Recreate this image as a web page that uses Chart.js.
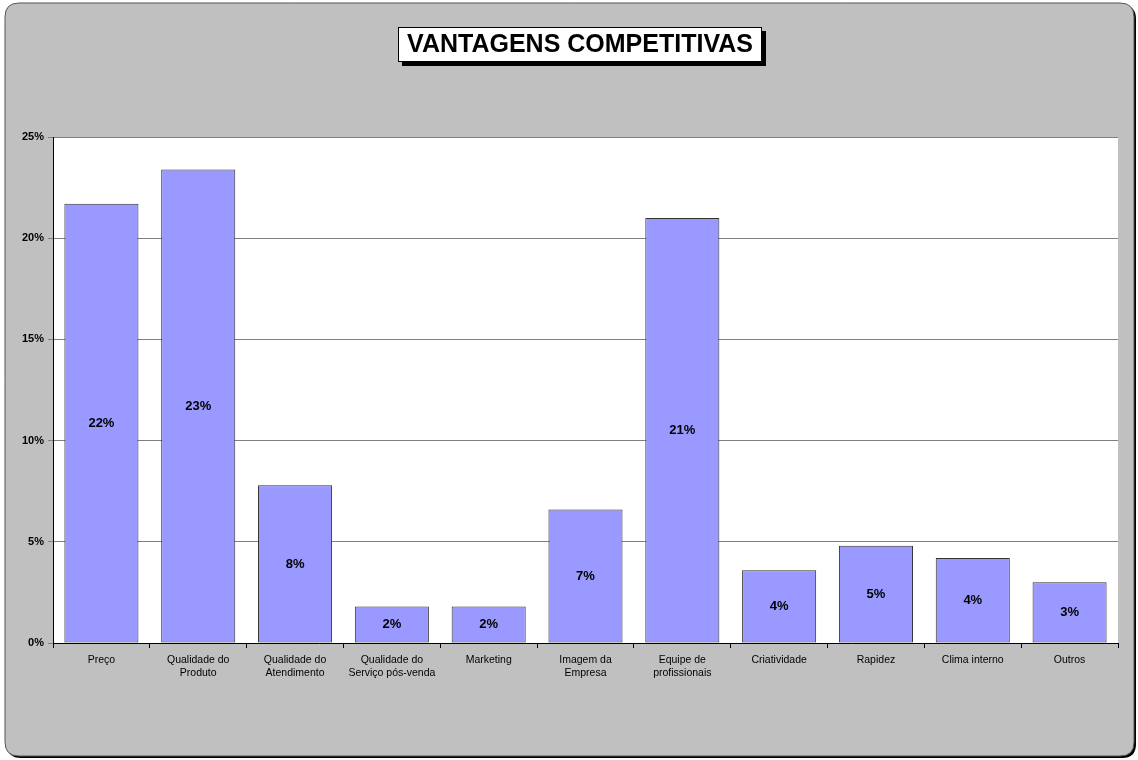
<!DOCTYPE html>
<html>
<head>
<meta charset="utf-8">
<script src="https://cdn.jsdelivr.net/npm/chart.js@4.4.0/dist/chart.umd.min.js"></script>
<style>
html,body{margin:0;padding:0;background:#fff;}
#wrap{width:1138px;height:760px;}
</style>
</head>
<body>
<div id="wrap"><canvas id="c" width="1138" height="760"></canvas></div>
<script>
const chartTitle = "VANTAGENS COMPETITIVAS";
const categories = [
  ["Preço"],
  ["Qualidade do", "Produto"],
  ["Qualidade do", "Atendimento"],
  ["Qualidade do", "Serviço pós-venda"],
  ["Marketing"],
  ["Imagem da", "Empresa"],
  ["Equipe de", "profissionais"],
  ["Criatividade"],
  ["Rapidez"],
  ["Clima interno"],
  ["Outros"]
];
const values = [21.7, 23.4, 7.8, 1.8, 1.8, 6.6, 21.0, 3.6, 4.8, 4.2, 3.0];
const yTicks = [0, 5, 10, 15, 20, 25];

const FONT = "'Liberation Sans', Arial, sans-serif";

const bgPlugin = {
  id: 'bg',
  beforeDraw(chart) {
    const ctx = chart.ctx;
    ctx.save();
    const r = 14;
    function rr(x, y, w, h) {
      ctx.beginPath();
      ctx.moveTo(x + r, y);
      ctx.lineTo(x + w - r, y);
      ctx.quadraticCurveTo(x + w, y, x + w, y + r);
      ctx.lineTo(x + w, y + h - r);
      ctx.quadraticCurveTo(x + w, y + h, x + w - r, y + h);
      ctx.lineTo(x + r, y + h);
      ctx.quadraticCurveTo(x, y + h, x, y + h - r);
      ctx.lineTo(x, y + r);
      ctx.quadraticCurveTo(x, y, x + r, y);
      ctx.closePath();
    }
    rr(7, 5, 1129, 753);
    ctx.fillStyle = '#000';
    ctx.fill();
    rr(5, 3, 1129, 753);
    ctx.fillStyle = '#c0c0c0';
    ctx.fill();
    ctx.strokeStyle = '#555';
    ctx.lineWidth = 1;
    ctx.stroke();
    const a = chart.chartArea;
    ctx.fillStyle = '#ffffff';
    ctx.fillRect(a.left, a.top, a.right - a.left, a.bottom - a.top);
    const bx = 398, by = 27, bw = 364, bh = 35;
    ctx.fillStyle = '#000';
    ctx.fillRect(bx + 4, by + 4, bw, bh);
    ctx.fillStyle = '#fff';
    ctx.fillRect(bx, by, bw, bh);
    ctx.strokeStyle = '#000';
    ctx.lineWidth = 1;
    ctx.strokeRect(bx + 0.5, by + 0.5, bw - 1, bh - 1);
    ctx.fillStyle = '#000';
    ctx.font = "bold 25px " + FONT;
    ctx.textAlign = 'center';
    ctx.textBaseline = 'middle';
    ctx.fillText(chartTitle, bx + bw / 2, by + bh / 2 + 1, 356);
    ctx.restore();
  }
};

const labelPlugin = {
  id: 'vlabels',
  afterDatasetsDraw(chart) {
    const ctx = chart.ctx;
    const meta = chart.getDatasetMeta(0);
    const y = chart.scales.y;
    ctx.save();
    ctx.font = "bold 13px " + FONT;
    ctx.fillStyle = '#000';
    ctx.textAlign = 'center';
    ctx.textBaseline = 'middle';
    meta.data.forEach((bar, i) => {
      const v = values[i];
      const yc = (y.getPixelForValue(v) + y.getPixelForValue(0)) / 2;
      ctx.fillText(Math.round(v) + '%', bar.x, yc);
    });
    ctx.restore();
  }
};

new Chart(document.getElementById('c'), {
  type: 'bar',
  data: {
    labels: categories,
    datasets: [{
      data: values,
      backgroundColor: '#9999ff',
      borderColor: '#333333',
      borderWidth: 1,
      borderSkipped: false,
      barPercentage: 0.765,
      categoryPercentage: 1.0
    }]
  },
  options: {
    responsive: false,
    animation: false,
    events: [],
    layout: { padding: { left: 0, right: 20, top: 137, bottom: 67 } },
    plugins: { legend: { display: false }, title: { display: false }, tooltip: { enabled: false } },
    scales: {
      x: {
        offset: true,
        afterFit(s) { s.height = 50; },
        grid: { drawOnChartArea: false, drawTicks: true, tickLength: 5, color: '#000', offset: true },
        border: { color: '#000', width: 1 },
        ticks: { color: '#000', font: { family: FONT, size: 10.5 }, padding: 6, maxRotation: 0, autoSkip: false }
      },
      y: {
        min: 0, max: 25,
        afterFit(s) { s.width = 53; },
        afterBuildTicks(s) { s.ticks = yTicks.map(v => ({ value: v })); },
        grid: { color: '#808080', tickLength: 5, drawTicks: true },
        border: { color: '#000', width: 1 },
        ticks: { color: '#000', font: { family: FONT, size: 11, weight: 'bold' }, padding: 4, callback: v => v + '%' }
      }
    }
  },
  plugins: [bgPlugin, labelPlugin]
});
</script>
</body>
</html>
